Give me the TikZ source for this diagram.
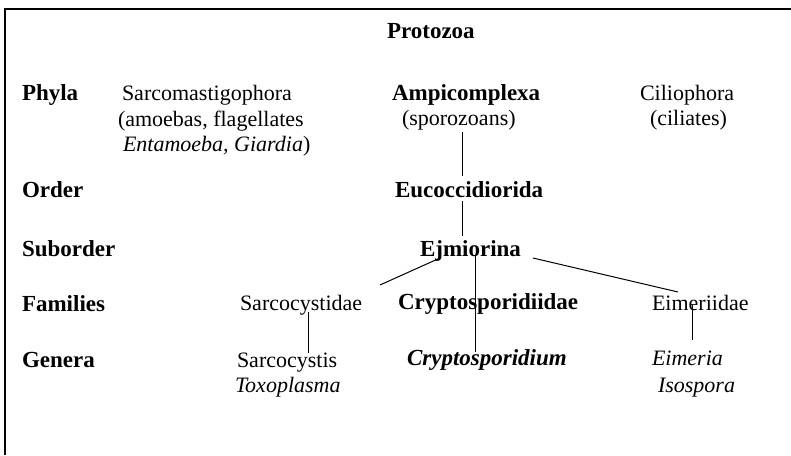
\documentclass[tikz,border=0pt]{standalone}
\usepackage{fontspec}
\setmainfont{Liberation Serif}
\begin{document}
\begin{tikzpicture}[x=1pt,y=-1pt,
  every node/.style={inner sep=0pt, outer sep=0pt, anchor=base west, font=\fontsize{22}{26}\selectfont},
  lbl/.style={font=\fontsize{23}{27}\selectfont\bfseries},
  ln/.style={line width=1pt, draw=black}]
\useasboundingbox (0,0) rectangle (791,455);
% frame
\draw[line width=1.4pt] (791,9) -- (5,9) -- (5,455);
% texts
\node[lbl] (proto) at (387,38) {Protozoa};
\node[lbl] (phyla) at (22,100) {Phyla};
\node (sarcom) at (122,100) {Sarcomastigophora};
\node (amoeb) at (118,126) {(amoebas, flagellates};
\node (entam) at (123,151) {\textit{Entamoeba, Giardia})};
\node[lbl] (ampi) at (392,100) {Ampicomplexa};
\node (spor) at (402,125) {(sporozoans)};
\node (cilio) at (640,100) {Ciliophora};
\node (cilia) at (650,125) {(ciliates)};
\node[lbl] (order) at (22,197) {Order};
\node[lbl] (euc) at (395,197) {Eucoccidiorida};
\node[lbl] (subord) at (22,256) {Suborder};
\node[lbl] (ejm) at (420,256) {Ejmiorina};
\node[lbl] (fam) at (22,311) {Families};
\node (sarcf) at (240,310) {Sarcocystidae};
\node[lbl] (cryf) at (398,309) {Cryptosporidiidae};
\node (eimf) at (652,310) {Eimeriidae};
\node[lbl] (gen) at (22,367) {Genera};
\node (sarcg) at (237,367) {Sarcocystis};
\node (toxo) at (235,392) {\textit{Toxoplasma}};
\node (cryg) at (407,365) {\fontsize{23}{27}\selectfont\textbf{\textit{Cryptosporidium}}};
\node (eimg) at (652,365) {\textit{Eimeria}};
\node (iso) at (658,392) {\textit{Isospora}};
% connector end points
\coordinate (sporB) at (462,132);
\coordinate (eucT) at (462,176);
\coordinate (eucB) at (462,201);
\coordinate (ejmT) at (462,236);
\coordinate (ejmL) at (440,258);
\coordinate (sarcfT) at (380,285);
\coordinate (ejmM) at (475,255);
\coordinate (crygT) at (475,352);
\coordinate (ejmR) at (533,258);
\coordinate (eimfT) at (678,292);
\coordinate (sarcfB) at (308,312);
\coordinate (sarcgT) at (308,353);
\coordinate (eimfB) at (692,305);
\coordinate (eimgT) at (692,340);
\draw[ln] (sporB) -- (eucT);
\draw[ln] (eucB) -- (ejmT);
\draw[ln] (ejmL) -- (sarcfT);
\draw[ln] (ejmM) -- (crygT);
\draw[ln] (ejmR) -- (eimfT);
\draw[ln] (sarcfB) -- (sarcgT);
\draw[ln] (eimfB) -- (eimgT);
\end{tikzpicture}
\end{document}
